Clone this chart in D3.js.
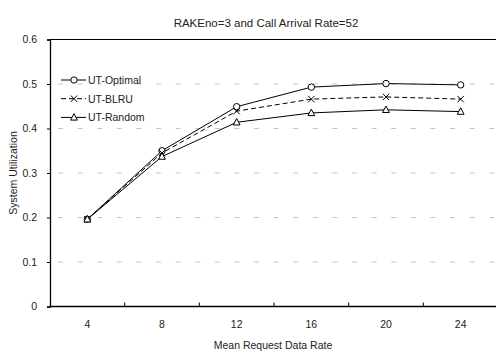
<!DOCTYPE html>
<html>
<head>
<meta charset="utf-8">
<script src="https://cdn.jsdelivr.net/npm/d3@7"></script>
<style>
body { margin: 0; background: #fff; }
svg { font-family: "Liberation Sans", Arial, sans-serif; }
</style>
</head>
<body>
<div id="viz"></div>
<script>
// data
var rates = ["4", "8", "12", "16", "20", "24"];
var utOptimal = [0.196, 0.350, 0.449, 0.493, 0.501, 0.498];
var utBLRU = [0.196, 0.345, 0.439, 0.466, 0.471, 0.466];
var utRandom = [0.196, 0.337, 0.414, 0.435, 0.442, 0.438];
var yTicks = [0, 0.1, 0.2, 0.3, 0.4, 0.5, 0.6];

var series = [
	{name: "UT-Optimal", values: utOptimal, dash: null, marker: "circle"},
	{name: "UT-BLRU", values: utBLRU, dash: "5,3", marker: "cross"},
	{name: "UT-Random", values: utRandom, dash: null, marker: "triangle"}
];

var W = 496, H = 352;
var plotLeft = 50, plotRight = 498, plotTop = 39.5, plotBottom = 306.5;

var svg = d3.select("#viz").append("svg").attr("width", W).attr("height", H);

var x = d3.scaleBand().domain(rates).range([plotLeft, plotRight]);
var y = d3.scaleLinear().domain([0, 0.6]).range([plotBottom, plotTop]);

// grid
svg.selectAll("line.grid").data(yTicks.filter(function(d) { return d > 0 && d < 0.6; }))
	.enter().append("line")
	.attr("x1", plotLeft + 8).attr("x2", W)
	.attr("y1", function(d) { return y(d); })
	.attr("y2", function(d) { return y(d); })
	.attr("stroke", "#c4c4c4")
	.attr("stroke-dasharray", "5,14.6");

// top border
svg.append("line").attr("x1", plotLeft).attr("x2", W).attr("y1", plotTop).attr("y2", plotTop)
	.attr("stroke", "#000").attr("stroke-width", 1);

// y axis
var yAxis = svg.append("g").attr("transform", "translate(" + plotLeft + ",0)")
	.call(d3.axisLeft(y).tickValues(yTicks).tickSize(3).tickPadding(10)
		.tickFormat(function(d) { return d === 0 ? "0" : d3.format(".1f")(d); }));
yAxis.select(".domain").attr("stroke-width", 1.3);
yAxis.selectAll("text").attr("font-size", 10.5).attr("fill", "#222");

// x axis
var xAxis = svg.append("g").attr("transform", "translate(0," + plotBottom + ")")
	.call(d3.axisBottom(x).tickSize(0).tickPadding(14));
xAxis.select(".domain").attr("stroke-width", 1.3).attr("d", "M" + plotLeft + ",0H" + W);
xAxis.selectAll("text").attr("font-size", 10.5).attr("fill", "#222");
// ticks between categories, pointing up
svg.selectAll("line.xt").data(rates.slice(1))
	.enter().append("line")
	.attr("x1", function(d) { return x(d); }).attr("x2", function(d) { return x(d); })
	.attr("y1", plotBottom).attr("y2", plotBottom - 4)
	.attr("stroke", "#000");

// labels
svg.append("text").attr("x", 266).attr("y", 27).attr("text-anchor", "middle")
	.attr("font-size", 11.5).attr("fill", "#222").text("RAKEno=3 and Call Arrival Rate=52");
svg.append("text").attr("x", 273).attr("y", 349).attr("text-anchor", "middle")
	.attr("font-size", 10.5).attr("fill", "#222").text("Mean Request Data Rate");
svg.append("text").attr("transform", "translate(17," + ((plotTop + plotBottom) / 2) + ") rotate(-90)")
	.attr("text-anchor", "middle").attr("font-size", 10.5).attr("fill", "#222")
	.text("System Utilization");

function cx(i) { return x(rates[i]) + x.bandwidth() / 2; }

function drawMarker(g, type, px, py) {
	if (type == "circle") {
		g.append("circle").attr("cx", px).attr("cy", py).attr("r", 3.2)
			.attr("fill", "#fff").attr("stroke", "#000").attr("stroke-width", 1);
	} else if (type == "cross") {
		g.append("path").attr("d", "M" + (px - 3.2) + "," + (py - 3.2) + "L" + (px + 3.2) + "," + (py + 3.2) +
			"M" + (px - 3.2) + "," + (py + 3.2) + "L" + (px + 3.2) + "," + (py - 3.2))
			.attr("stroke", "#000").attr("stroke-width", 1).attr("fill", "none");
	} else {
		g.append("path").attr("d", "M" + px + "," + (py - 3.8) + "L" + (px + 3.4) + "," + (py + 2.7) + "L" + (px - 3.4) + "," + (py + 2.7) + "Z")
			.attr("fill", "#fff").attr("stroke", "#000").attr("stroke-width", 1);
	}
}

var line = d3.line().x(function(d, i) { return cx(i); }).y(function(d) { return y(d); });

series.forEach(function(s) {
	var g = svg.append("g");
	g.append("path").attr("d", line(s.values)).attr("fill", "none")
		.attr("stroke", "#000").attr("stroke-width", 1)
		.attr("stroke-dasharray", s.dash);
	s.values.forEach(function(v, i) { drawMarker(g, s.marker, cx(i), y(v)); });
});

// legend
var legend = svg.append("g");
series.forEach(function(s, i) {
	var ly = 80 + i * 18.7;
	legend.append("line").attr("x1", 61).attr("x2", 86).attr("y1", ly).attr("y2", ly)
		.attr("stroke", "#000").attr("stroke-dasharray", s.dash);
	drawMarker(legend, s.marker, 74, ly);
	legend.append("text").attr("x", 88).attr("y", ly + 4).attr("font-size", 10.5)
		.attr("fill", "#222").text(s.name);
});
</script>
</body>
</html>
